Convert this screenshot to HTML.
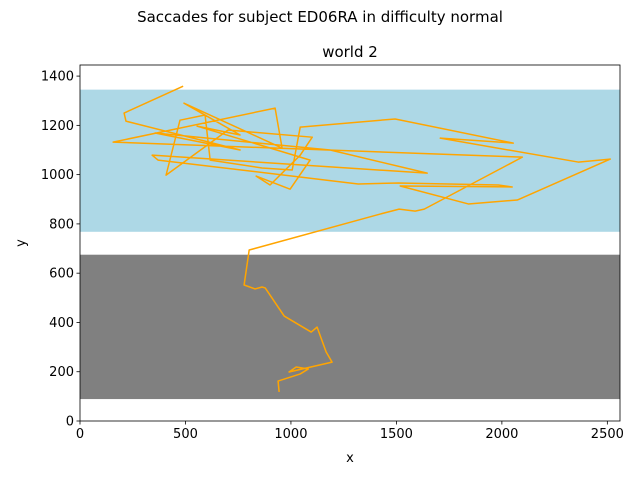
<!DOCTYPE html>
<html><head><meta charset="utf-8"><style>body{margin:0;background:#fff}svg{display:block;font-family:"DejaVu Sans","Liberation Sans",sans-serif}</style></head>
<body>
<svg id="chart" width="640" height="480" viewBox="0 0 640 480" xmlns="http://www.w3.org/2000/svg">
<text x="320" y="22" font-size="15" text-anchor="middle">Saccades for subject ED06RA in difficulty normal</text>
<text x="350" y="57" font-size="15" text-anchor="middle">world 2</text>
<g id="plot"></g>
<text x="350" y="462" font-size="13" text-anchor="middle">x</text>
<text x="25" y="243" font-size="13" text-anchor="middle" transform="rotate(-90 25 243)">y</text>
</svg>
<script>
const xs = [944,939,1044,1082,1025,991,1195,1167,1124,1096,968,878,863,830,778,802,1423,1513,1589,1632,2097,157,925,958,493,759,555,1091,996,835,901,1044,1101,702,408,474,593,617,863,1006,1044,1494,2054,1708,2362,2514,2073,1841,1518,2049,1983,1509,1319,370,342,1646,1186,356,759,218,209,489];
const ys = [118,162,191,211,219,199,239,280,381,361,426,540,544,536,552,694,840,860,852,860,1071,1132,1270,1108,1290,1161,1197,1059,941,994,958,1079,1152,1181,998,1221,1242,1059,1027,1019,1193,1226,1128,1148,1051,1063,897,881,954,950,958,966,962,1059,1079,1006,1100,1169,1100,1217,1250,1359];
const regionsY = [[768,1345],[89,675]];
const regionColors = ['#add8e6','#808080'];
const xTicks = [0,500,1000,1500,2000,2500];
const yTicks = [0,200,400,600,800,1000,1200,1400];
const xMax = 2560, yMax = 1445;
const L=80,R=620,T=65,B=421;
const sx=v=>L+v/xMax*(R-L), sy=v=>B-v/yMax*(B-T);
const NS='http://www.w3.org/2000/svg';
const g=document.getElementById('plot');
function mk(t,a){const e=document.createElementNS(NS,t);for(const k in a)e.setAttribute(k,a[k]);g.appendChild(e);return e;}
regionsY.forEach((r,i)=>{const e=mk('rect',{x:L,y:sy(r[1]),width:R-L,height:sy(r[0])-sy(r[1]),fill:regionColors[i]});

});
const pl=mk('polyline',{points:xs.map((x,i)=>sx(x)+','+sy(ys[i])).join(' '),fill:'none',stroke:'#ffa500','stroke-width':1.5,'stroke-linejoin':'round'});


const fr=mk('rect',{x:L,y:T,width:R-L,height:B-T,fill:'none',stroke:'#000','stroke-width':0.8});


xTicks.forEach(v=>{const x=sx(v);mk('line',{x1:x,x2:x,y1:B,y2:B+3.5,stroke:'#000','stroke-width':0.8});
const t=mk('text',{x:x,y:B+17,'font-size':13,'text-anchor':'middle'});t.textContent=v;

});
yTicks.forEach(v=>{const y=sy(v);mk('line',{x1:L-3.5,x2:L,y1:y,y2:y,stroke:'#000','stroke-width':0.8});
const t=mk('text',{x:L-6,y:y+4.5,'font-size':13,'text-anchor':'end'});t.textContent=v;

});
</script>
</body></html>
